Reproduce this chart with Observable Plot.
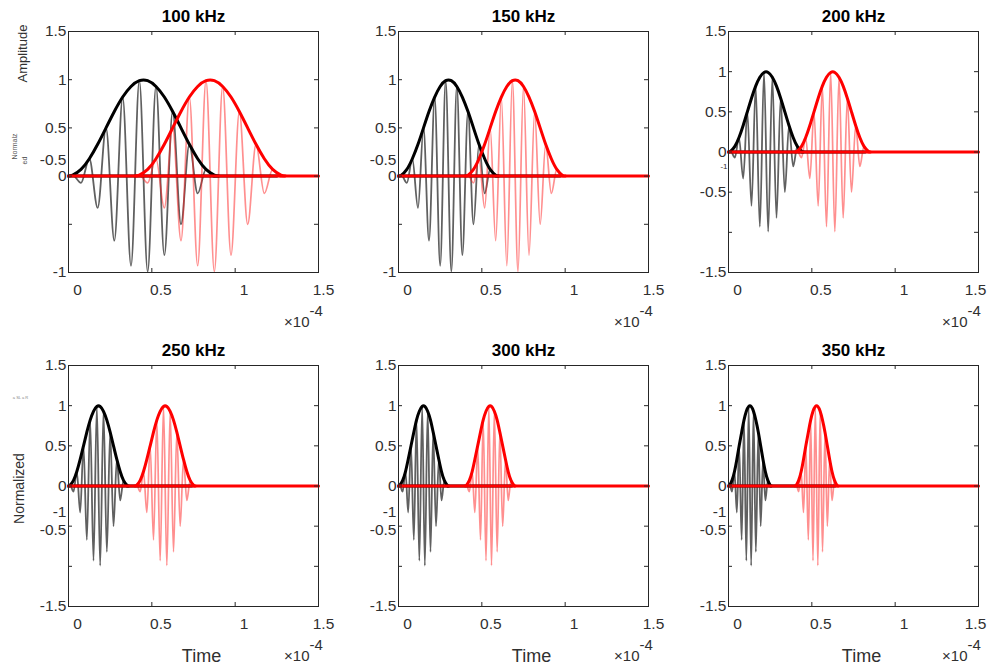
<!DOCTYPE html>
<html>
<head>
<meta charset="utf-8">
<script src="https://cdn.jsdelivr.net/npm/d3@7"></script>
<script src="https://cdn.jsdelivr.net/npm/@observablehq/plot@0.6"></script>
<style>
  html, body { margin: 0; padding: 0; background: #fff; }
  #chart { position: relative; width: 991px; height: 670px; background: #fff; overflow: hidden; }
  #chart svg { position: absolute; }
</style>
</head>
<body>
<div id="chart"></div>
<script>
// ---------- data (time in units of 1e-4 s) ----------
const panelTitles = ["100 kHz", "150 kHz", "200 kHz", "250 kHz", "300 kHz", "350 kHz"];

// amplitudes of the tone-burst extrema (start, 18 extrema, end) - same shape in every panel
const waveAmp = [0, 0.01, -0.07, 0.18, -0.33, 0.5, -0.67, 0.82, -0.93, 0.99, -0.99, 0.93, -0.82, 0.67, -0.5, 0.33, -0.18, 0.07, -0.01, 0];
// envelope height at the same instants
const envAmp  = [0, 0.01, 0.07, 0.18, 0.33, 0.5, 0.67, 0.82, 0.93, 0.99, 0.99, 0.93, 0.82, 0.67, 0.5, 0.33, 0.18, 0.07, 0.01, 0];

// times of those points, black (emitted) and red (received) signals
const blackT100 = [0, 0.025, 0.075, 0.125, 0.175, 0.225, 0.275, 0.325, 0.375, 0.425, 0.475, 0.525, 0.575, 0.625, 0.675, 0.725, 0.775, 0.825, 0.875, 0.9];
const redT100   = [0.4, 0.425, 0.475, 0.525, 0.575, 0.625, 0.675, 0.725, 0.775, 0.825, 0.875, 0.925, 0.975, 1.025, 1.075, 1.125, 1.175, 1.225, 1.275, 1.3];
const blackT150 = [0, 0.017, 0.05, 0.083, 0.117, 0.15, 0.183, 0.217, 0.25, 0.283, 0.317, 0.35, 0.383, 0.417, 0.45, 0.483, 0.517, 0.55, 0.583, 0.6];
const redT150   = [0.4, 0.417, 0.45, 0.483, 0.517, 0.55, 0.583, 0.617, 0.65, 0.683, 0.717, 0.75, 0.783, 0.817, 0.85, 0.883, 0.917, 0.95, 0.983, 1.0];
const blackT200 = [0, 0.013, 0.038, 0.063, 0.088, 0.113, 0.138, 0.163, 0.188, 0.213, 0.238, 0.263, 0.288, 0.313, 0.338, 0.363, 0.388, 0.413, 0.438, 0.45];
const redT200   = [0.4, 0.413, 0.438, 0.463, 0.488, 0.513, 0.538, 0.563, 0.588, 0.613, 0.638, 0.663, 0.688, 0.713, 0.738, 0.763, 0.788, 0.813, 0.838, 0.85];
const blackT250 = [0, 0.01, 0.03, 0.05, 0.07, 0.09, 0.11, 0.13, 0.15, 0.17, 0.19, 0.21, 0.23, 0.25, 0.27, 0.29, 0.31, 0.33, 0.35, 0.36];
const redT250   = [0.4, 0.41, 0.43, 0.45, 0.47, 0.49, 0.51, 0.53, 0.55, 0.57, 0.59, 0.61, 0.63, 0.65, 0.67, 0.69, 0.71, 0.73, 0.75, 0.76];
const blackT300 = [0, 0.008, 0.025, 0.042, 0.058, 0.075, 0.092, 0.108, 0.125, 0.142, 0.158, 0.175, 0.192, 0.208, 0.225, 0.242, 0.258, 0.275, 0.292, 0.3];
const redT300   = [0.4, 0.408, 0.425, 0.442, 0.458, 0.475, 0.492, 0.508, 0.525, 0.542, 0.558, 0.575, 0.592, 0.608, 0.625, 0.642, 0.658, 0.675, 0.692, 0.7];
const blackT350 = [0, 0.007, 0.021, 0.036, 0.05, 0.064, 0.079, 0.093, 0.107, 0.121, 0.136, 0.15, 0.164, 0.179, 0.193, 0.207, 0.221, 0.236, 0.25, 0.257];
const redT350   = [0.4, 0.407, 0.421, 0.436, 0.45, 0.464, 0.479, 0.493, 0.507, 0.521, 0.536, 0.55, 0.564, 0.579, 0.593, 0.607, 0.621, 0.636, 0.65, 0.657];

// where the flat black zero line stops, and the time axis end
const blackBaseEnd = [1.25, 0.97, 0.82, 0.74, 0.68, 0.64];
const timeEnd = 1.5;

// axes
const xTickVals = [0, 0.5, 1, 1.5];
const xTickText = ["0", "0.5", "1", "1.5"];
const yDomainA = [-1, 1.5];
const yDomainB = [-1.5, 1.5];
const yTickValsA = [-1, -0.5, 0, 0.5, 1, 1.5];
const yTickValsB = [-1.5, -1, -0.5, 0, 0.5, 1, 1.5];
// tick labels as printed (some are displaced in the original figure)
const yLabelPosA = [1.5, 1, 0.5, 0.17, 0, -1];
const yLabelTextA = ["1.5", "1", "0.5", "-0.5", "0", "-1"];
const yLabelPosB = [1.5, 1, 0.5, 0, -0.5, -1.5];
const yLabelTextB = ["1.5", "1", "0.5", "0", "-0.5", "-1.5"];
const yLabelPosC = [1.5, 1, 0.5, 0, -0.33, -0.55, -1.5];
const yLabelTextC = ["1.5", "1", "0.5", "0", "-1", "-0.5", "-1.5"];
const smallLabelPos = [-0.18];
const smallLabelText = ["-1"];

// ---------- drawing ----------
const FONT = "'Liberation Sans', Arial, Helvetica, sans-serif";
const AX = "#303030";
const W = 330, H = 335, ML = 68, MR = 12, MT = 31, MB = 63;
const innerW = W - ML - MR, innerH = H - MT - MB;
const TICKFONT = 15.5;

const zip = (ts, as) => ts.map((t, i) => ({t, a: as[i]}));
const labels = (pos, txt) => pos.map((v, i) => ({v, s: txt[i]}));

const cfgs = [
  {bT: blackT100, rT: redT100, dom: yDomainA, ticks: yTickValsA, lab: labels(yLabelPosA, yLabelTextA)},
  {bT: blackT150, rT: redT150, dom: yDomainA, ticks: yTickValsA, lab: labels(yLabelPosA, yLabelTextA)},
  {bT: blackT200, rT: redT200, dom: yDomainB, ticks: yTickValsB, lab: labels(yLabelPosB, yLabelTextB), small: true},
  {bT: blackT250, rT: redT250, dom: yDomainB, ticks: yTickValsB, lab: labels(yLabelPosC, yLabelTextC)},
  {bT: blackT300, rT: redT300, dom: yDomainB, ticks: yTickValsB, lab: labels(yLabelPosC, yLabelTextC)},
  {bT: blackT350, rT: redT350, dom: yDomainB, ticks: yTickValsB, lab: labels(yLabelPosC, yLabelTextC)}
];

const chart = document.getElementById("chart");

cfgs.forEach((c, i) => {
  const row = Math.floor(i / 3), col = i % 3;
  const waveB = zip(c.bT, waveAmp), waveR = zip(c.rT, waveAmp);
  const envB = zip(c.bT, envAmp), envR = zip(c.rT, envAmp);
  const baseB = [{t: 0, a: 0}, {t: blackBaseEnd[i], a: 0}];
  const baseR = [{t: 0, a: 0}, {t: timeEnd, a: 0}];
  const xLab = labels(xTickVals, xTickText);
  const xLabInner = xLab.filter(d => d.v < timeEnd);
  const xLabLast = xLab.filter(d => d.v === timeEnd);

  const marks = [
    Plot.line(waveB, {x: "t", y: "a", curve: "monotone-x", stroke: "#222", strokeWidth: 1.8, strokeOpacity: 0.72}),
    Plot.line(waveR, {x: "t", y: "a", curve: "monotone-x", stroke: "#ff2020", strokeWidth: 1.7, strokeOpacity: 0.5}),
    Plot.line(baseB, {x: "t", y: "a", stroke: "#000", strokeWidth: 3}),
    Plot.line(envB, {x: "t", y: "a", curve: "natural", stroke: "#000", strokeWidth: 3}),
    Plot.line(baseR, {x: "t", y: "a", stroke: "#ff0000", strokeWidth: 3}),
    Plot.line(envR, {x: "t", y: "a", curve: "natural", stroke: "#ff0000", strokeWidth: 3}),
    Plot.frame({stroke: "#262626", strokeWidth: 1}),
    // inward tick marks on all four sides
    Plot.ruleX(xTickVals, {x: d => d, insetTop: innerH - 4, stroke: "#262626"}),
    Plot.ruleX(xTickVals, {x: d => d, insetBottom: innerH - 4, stroke: "#262626"}),
    Plot.ruleY(c.ticks, {y: d => d, insetRight: innerW - 4, stroke: "#262626"}),
    Plot.ruleY(c.ticks, {y: d => d, insetLeft: innerW - 4, stroke: "#262626"}),
    // tick labels
    Plot.text(xLabInner, {x: "v", text: "s", frameAnchor: "bottom", lineAnchor: "middle", textAnchor: "middle", dx: 9, dy: 18, fontSize: TICKFONT, fill: AX}),
    Plot.text(xLabLast, {x: "v", text: "s", frameAnchor: "bottom", lineAnchor: "middle", textAnchor: "middle", dx: col === 2 ? -3 : 5, dy: 18, fontSize: TICKFONT, fill: AX}),
    Plot.text(c.lab, {y: "v", text: "s", frameAnchor: "left", textAnchor: "end", lineAnchor: "middle", dx: -2, fontSize: TICKFONT, fill: AX}),
    // title
    Plot.text([panelTitles[i]], {text: d => d, frameAnchor: "top", textAnchor: "middle", lineAnchor: "middle", dy: -15, fontSize: 17, fontWeight: "bold", fill: "#000"}),
    // exponent
    Plot.text(["\u00d710"], {text: d => d, frameAnchor: "bottom-right", textAnchor: "end", lineAnchor: "middle", dx: col === 2 ? -11 : -9, dy: 50, fontSize: 15, fill: AX}),
    Plot.text(["-4"], {text: d => d, frameAnchor: "bottom-right", textAnchor: "start", lineAnchor: "middle", dx: col === 2 ? -11 : -9, dy: 39, fontSize: 15, fill: AX})
  ];
  if (c.small) {
    marks.push(Plot.text(labels(smallLabelPos, smallLabelText), {y: "v", text: "s", frameAnchor: "left", textAnchor: "end", lineAnchor: "middle", dx: -1, fontSize: 8, fill: AX}));
  }
  if (row === 1) {
    marks.push(Plot.text(["Time"], {text: d => d, frameAnchor: "bottom", textAnchor: "middle", lineAnchor: "middle", dx: 8, dy: 50, fontSize: 18, fill: AX}));
  }
  if (i === 0) {
    marks.push(Plot.text(["Amplitude"], {text: d => d, frameAnchor: "top-left", textAnchor: "middle", lineAnchor: "middle", rotate: -90, dx: -46, dy: 22, fontSize: 13, fontFamily: "'Liberation Sans Narrow', 'Liberation Sans', Arial, sans-serif", fill: AX}));
    marks.push(Plot.text(["Normalz"], {text: d => d, frameAnchor: "top-left", textAnchor: "middle", lineAnchor: "middle", rotate: -90, dx: -54, dy: 115, fontSize: 7, fill: "#555"}));
    marks.push(Plot.text(["ed"], {text: d => d, frameAnchor: "top-left", textAnchor: "middle", lineAnchor: "middle", rotate: -90, dx: -44, dy: 129, fontSize: 7, fill: "#555"}));
  }
  if (i === 3) {
    marks.push(Plot.text(["Normalized"], {text: d => d, frameAnchor: "top-left", textAnchor: "middle", lineAnchor: "middle", rotate: -90, dx: -49, dy: 123, fontSize: 14, fontFamily: "'Liberation Sans Narrow', 'Liberation Sans', Arial, sans-serif", fill: AX}));
    marks.push(Plot.text(["a SL a R"], {text: d => d, frameAnchor: "top-left", textAnchor: "middle", lineAnchor: "middle", dx: -48, dy: 32, fontSize: 4, fill: "#888"}));
  }

  const svg = Plot.plot({
    width: W, height: H,
    marginLeft: ML, marginRight: MR, marginTop: MT, marginBottom: MB,
    x: {domain: [0, timeEnd], axis: null},
    y: {domain: c.dom, axis: null},
    style: {background: "transparent", overflow: "visible", fontFamily: FONT},
    marks
  });
  svg.style.left = (col * 330) + "px";
  svg.style.top = (row * 334) + "px";
  chart.appendChild(svg);
});
</script>
</body>
</html>
